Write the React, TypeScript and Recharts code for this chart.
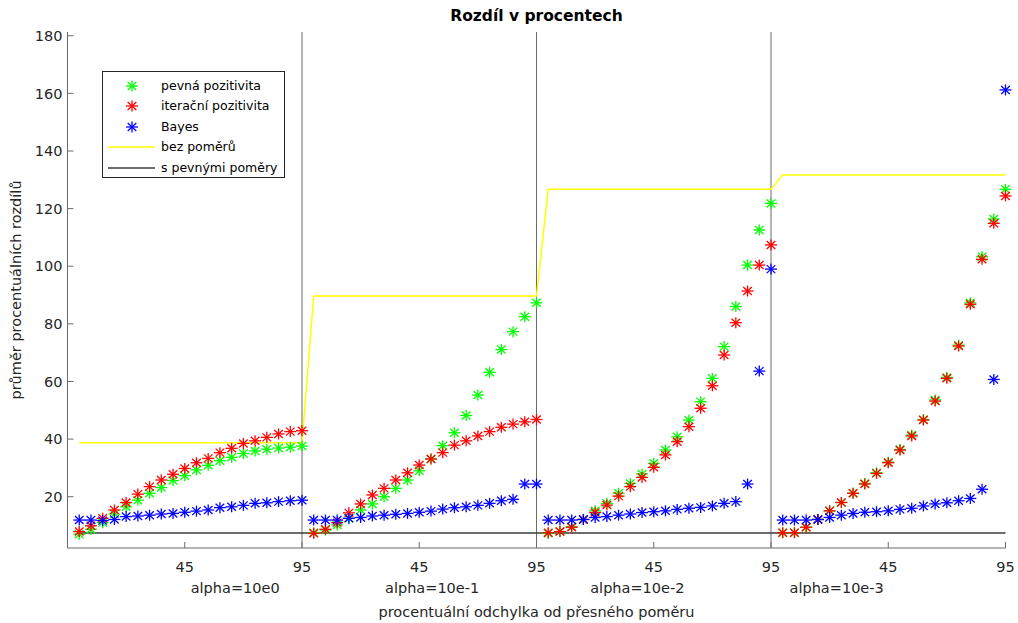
import React from "react";
import {
  ComposedChart,
  Scatter,
  Line,
  XAxis,
  YAxis,
  ReferenceLine,
  Legend,
  Label,
} from "recharts";

// x: percent deviation from the exact ratio, repeated for each alpha block
const deviations = [0, 5, 10, 15, 20, 25, 30, 35, 40, 45, 50, 55, 60, 65, 70, 75, 80, 85, 90, 95];
const alphaLabels = ["alpha=10e0", "alpha=10e-1", "alpha=10e-2", "alpha=10e-3"];

// pevná pozitivita
const fixedPositivity = [
  7.0, 8.7, 11.0, 14.0, 16.5, 18.8, 21.2, 23.2, 25.6, 27.3, 29.3, 30.9, 32.5, 33.7, 35.0, 35.9, 36.5, 36.9, 37.2, 37.6,
  7.5, 8.4, 10.2, 12.5, 15.4, 17.5, 20.0, 22.9, 25.8, 29.0, 33.1, 37.7, 42.2, 48.2, 55.3, 63.2, 71.1, 77.3, 82.5, 87.3,
  7.3, 7.9, 9.6, 12.1, 15.1, 17.7, 21.2, 24.6, 27.9, 31.6, 36.2, 40.8, 46.6, 53.0, 61.1, 72.1, 86.0, 100.4, 112.6, 121.8,
  7.5, 7.5, 9.4, 12.1, 15.1, 18.0, 21.2, 24.6, 28.3, 32.0, 36.4, 41.4, 46.8, 53.6, 61.4, 72.6, 87.3, 103.3, 116.4, 126.7,
];

// iterační pozitivita
const iterPositivity = [
  7.9, 9.9, 12.5, 15.4, 18.0, 20.9, 23.5, 25.8, 27.8, 29.8, 31.8, 33.3, 35.3, 36.8, 38.5, 39.4, 40.6, 41.8, 42.6, 42.9,
  7.3, 8.7, 11.0, 14.4, 17.5, 20.6, 22.9, 25.8, 28.3, 31.0, 33.1, 35.3, 37.9, 39.4, 41.1, 42.6, 44.1, 45.2, 46.0, 46.8,
  7.5, 7.9, 9.4, 12.1, 14.5, 17.1, 20.2, 23.5, 26.7, 30.2, 34.5, 39.1, 44.3, 50.7, 58.5, 69.2, 80.4, 91.4, 100.4, 107.4,
  7.5, 7.5, 9.4, 12.1, 15.1, 18.0, 21.2, 24.4, 28.1, 31.8, 36.2, 41.1, 46.6, 53.2, 61.1, 72.3, 86.8, 102.4, 114.9, 124.4,
];

// Bayes
const bayes = [
  11.9, 11.9, 11.7, 12.1, 13.1, 13.3, 13.6, 14.0, 14.2, 14.6, 15.0, 15.4, 16.2, 16.5, 17.0, 17.7, 17.9, 18.3, 18.6, 18.8,
  11.9, 11.9, 11.9, 12.5, 12.8, 13.3, 13.6, 13.9, 14.2, 14.6, 15.0, 15.7, 16.2, 16.5, 17.0, 17.7, 18.6, 19.1, 24.4, 24.4,
  11.9, 11.9, 11.9, 12.1, 12.8, 13.1, 13.6, 14.0, 14.5, 14.8, 15.1, 15.6, 16.0, 16.3, 16.8, 17.7, 18.3, 24.4, 63.6, 99.0,
  11.9, 11.9, 11.9, 12.1, 12.8, 13.6, 14.2, 14.6, 14.8, 15.1, 15.6, 16.0, 16.8, 17.5, 17.9, 18.6, 19.4, 22.6, 60.7, 161.2,
];

// bez poměrů: one level per alpha block
const noRatioLevels = [38.7, 89.7, 126.7, 131.7];
// s pevnými poměry
const fixedRatioLevel = 7.4;

const yTicks = [20, 40, 60, 80, 100, 120, 140, 160, 180];

const FONT = "'DejaVu Sans', sans-serif";
const AXIS = "#6b6b6b";
const TEXT = "#262626";
const GREEN = "#00ff00";
const RED = "#ff0000";
const BLUE = "#0000ff";
const YELLOW = "#ffff00";
const BLACK = "#3a3a3a";

const N = deviations.length;
const xMax = N * alphaLabels.length;
const blockEnds = alphaLabels.slice(0, -1).map((_, b) => (b + 1) * N);
const xTicks = alphaLabels.flatMap((_, b) => [b * N + 10, b * N + 20]);
// where the alpha captions sit under the axis
const alphaLabelAt = [14.3, 31.1, 48.6, 65.6];

const toPoints = (vals: number[]) => vals.map((y, i) => ({ x: i + 1, y }));
const noRatioPts = noRatioLevels.flatMap((y, b) => [
  { x: b * N + 1, y },
  { x: b * N + N, y },
]);
const fixedRatioPts = [
  { x: 1, y: fixedRatioLevel },
  { x: xMax, y: fixedRatioLevel },
];

const legendItems = [
  { name: "pevná pozitivita", color: GREEN, kind: "star" },
  { name: "iterační pozitivita", color: RED, kind: "star" },
  { name: "Bayes", color: BLUE, kind: "star" },
  { name: "bez poměrů", color: YELLOW, kind: "line" },
  { name: "s pevnými poměry", color: BLACK, kind: "line" },
];

function Asterisk({ cx, cy, color }: { cx: number; cy: number; color: string }) {
  if (cx == null || cy == null) return null;
  return (
    <g stroke={color} strokeWidth={1.3}>
      <line x1={cx - 6} y1={cy} x2={cx + 6} y2={cy} />
      <line x1={cx} y1={cy - 5.5} x2={cx} y2={cy + 5.5} />
      <line x1={cx - 4.3} y1={cy - 4} x2={cx + 4.3} y2={cy + 4} />
      <line x1={cx - 4.3} y1={cy + 4} x2={cx + 4.3} y2={cy - 4} />
    </g>
  );
}

const star = (color: string) => (props: any) => <Asterisk cx={props.cx} cy={props.cy} color={color} />;

function LegendBox() {
  return (
    <div
      style={{
        width: 181,
        height: 105,
        border: `1px solid ${TEXT}`,
        background: "#fff",
        position: "relative",
        fontFamily: FONT,
        fontSize: 12.5,
        color: "#000",
      }}
    >
      {legendItems.map((it, i) => (
        <div
          key={it.name}
          style={{ position: "absolute", left: 0, top: 4 + i * 20.4, height: 20, width: 181 }}
        >
          <svg width={56} height={20} style={{ position: "absolute", left: 0, top: 0 }}>
            {it.kind === "star" ? (
              <Asterisk cx={29} cy={10} color={it.color} />
            ) : (
              <line x1={5} y1={10} x2={52} y2={10} stroke={it.color} strokeWidth={1.3} />
            )}
          </svg>
          <span style={{ position: "absolute", left: 58, top: 0, lineHeight: "20px", whiteSpace: "nowrap" }}>
            {it.name}
          </span>
        </div>
      ))}
    </div>
  );
}

export default function App() {
  const tickStyle = { fill: TEXT, fontSize: 14.5, fontFamily: FONT };
  return (
    <div style={{ position: "absolute", left: 0, top: 0, width: 1018, height: 623, background: "#fff" }}>
      <ComposedChart width={1018} height={623} margin={{ top: 32, right: 12.5, bottom: 0, left: 0 }}>
        <XAxis
          type="number"
          dataKey="x"
          domain={[0, xMax]}
          ticks={xTicks}
          tickFormatter={(v) => String(deviations[(v - 1) % N])}
          height={27}
          tickSize={-6}
          tickMargin={20}
          stroke={AXIS}
          tick={tickStyle}
          interval={0}
        />
        <XAxis
          xAxisId="alpha"
          type="number"
          dataKey="x"
          domain={[0, xMax]}
          allowDataOverflow
          ticks={alphaLabelAt}
          tickFormatter={(_v, i) => alphaLabels[i]}
          height={48}
          axisLine={false}
          tickLine={false}
          tickSize={0}
          tickMargin={8}
          tick={tickStyle}
          interval={0}
        >
          <Label
            value="procentuální odchylka od přesného poměru"
            position="insideBottom"
            offset={6}
            style={{ fill: TEXT, fontSize: 14.5, fontFamily: FONT }}
          />
        </XAxis>
        <XAxis
          xAxisId="top"
          orientation="top"
          type="number"
          dataKey="x"
          domain={[0, xMax]}
          allowDataOverflow
          ticks={xTicks}
          height={0}
          tickSize={-6}
          tick={false}
          stroke={AXIS}
          interval={0}
        />
        <YAxis
          type="number"
          dataKey="y"
          domain={[2.2, 181.3]}
          ticks={yTicks}
          width={67.5}
          tickSize={-6}
          tickMargin={11}
          stroke={AXIS}
          tick={tickStyle}
          interval={0}
        >
          <Label
            value="průměr procentuálních rozdílů"
            angle={-90}
            position="insideLeft"
            offset={16}
            style={{ fill: TEXT, fontSize: 14.5, fontFamily: FONT, textAnchor: "middle" }}
          />
        </YAxis>
        <YAxis
          yAxisId="right"
          orientation="right"
          type="number"
          domain={[2.2, 181.3]}
          allowDataOverflow
          ticks={yTicks}
          width={0}
          tickSize={-6}
          tick={false}
          stroke={AXIS}
          interval={0}
        />

        {blockEnds.map((x) => (
          <ReferenceLine key={x} x={x} stroke={AXIS} strokeWidth={1} />
        ))}

        <Scatter
          name="pevná pozitivita"
          data={toPoints(fixedPositivity)}
          shape={star(GREEN)}
          isAnimationActive={false}
        />
        <Scatter
          name="iterační pozitivita"
          data={toPoints(iterPositivity)}
          shape={star(RED)}
          isAnimationActive={false}
        />
        <Scatter name="Bayes" data={toPoints(bayes)} shape={star(BLUE)} isAnimationActive={false} />
        <Line
          name="bez poměrů"
          data={noRatioPts}
          dataKey="y"
          stroke={YELLOW}
          strokeWidth={1.5}
          dot={false}
          isAnimationActive={false}
        />
        <Line
          name="s pevnými poměry"
          data={fixedRatioPts}
          dataKey="y"
          stroke={BLACK}
          strokeWidth={1.3}
          dot={false}
          isAnimationActive={false}
        />
        <Legend
          layout="vertical"
          align="center"
          verticalAlign="middle"
          wrapperStyle={{ left: 102, top: 71, width: "auto", height: "auto" }}
          content={() => <LegendBox />}
        />
      </ComposedChart>
      <div
        style={{
          position: "absolute",
          left: 67.5,
          width: 938,
          top: 6,
          lineHeight: "20px",
          textAlign: "center",
          fontFamily: FONT,
          fontWeight: "bold",
          fontSize: 15.5,
          color: "#000",
        }}
      >
        Rozdíl v procentech
      </div>
    </div>
  );
}
